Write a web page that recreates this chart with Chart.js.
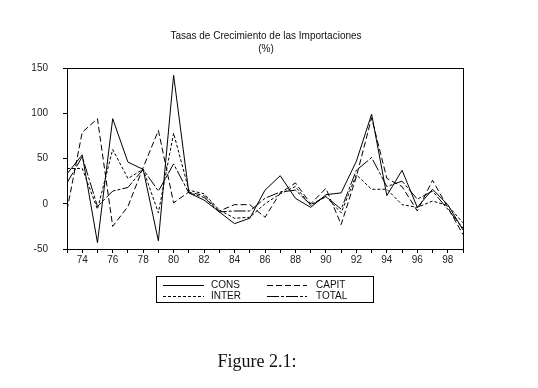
<!DOCTYPE html>
<html>
<head>
<meta charset="utf-8">
<script src="https://cdn.jsdelivr.net/npm/chart.js@4"></script>
<style>
  body { margin:0; background:#fff; }
  #wrap { position:relative; width:538px; height:388px; overflow:hidden; font-family:"Liberation Sans", Arial, sans-serif; }
  #c { position:absolute; left:0; top:0; }
  .title { position:absolute; left:0; width:532px; text-align:center; font-size:10px; color:#111; }
  #leg { position:absolute; left:156px; top:276px; width:216px; height:25px; border:1px solid #000; font-size:10px; color:#111; }
  .item { position:absolute; height:12px; line-height:12px; }
  .item svg { position:absolute; left:0; top:0; }
  .item span { position:absolute; top:0; }
  #cap { position:absolute; left:0; width:514px; top:351px; text-align:center; font-family:"Liberation Serif", "DejaVu Serif", serif; font-size:18px; color:#111; }
</style>
</head>
<body>
<div id="wrap">
  <canvas id="c" width="538" height="388"></canvas>
  <div class="title" style="top:30px">Tasas de Crecimiento de las Importaciones</div>
  <div class="title" style="top:43px">(%)</div>
  <div id="leg">
    <div class="item" style="left:6px;top:2px"><svg width="42" height="12"><line x1="0" y1="6.5" x2="41" y2="6.5" stroke="#000" stroke-width="1"/></svg><span style="left:48px">CONS</span></div>
    <div class="item" style="left:110px;top:2px"><svg width="42" height="12"><line x1="0" y1="6.5" x2="40" y2="6.5" stroke="#000" stroke-width="1" stroke-dasharray="6,3"/></svg><span style="left:49px">CAPIT</span></div>
    <div class="item" style="left:6px;top:13px"><svg width="42" height="12"><line x1="0" y1="6.5" x2="41" y2="6.5" stroke="#000" stroke-width="1" stroke-dasharray="3,2"/></svg><span style="left:48px">INTER</span></div>
    <div class="item" style="left:110px;top:13px"><svg width="42" height="12"><line x1="0" y1="6.5" x2="40" y2="6.5" stroke="#000" stroke-width="1" stroke-dasharray="12,2,3,2"/></svg><span style="left:49px">TOTAL</span></div>
  </div>
  <div id="cap">Figure 2.1:</div>
</div>
<script>
// años 1973-1999 (eje en dos dígitos)
const years = [73,74,75,76,77,78,79,80,81,82,83,84,85,86,87,88,89,90,91,92,93,94,95,96,97,98,99];
const cons  = [33,54,-43,94,46,38,-41,142,12,4,-9,-22,-16,15,31,6,-4,10,12,47,99,9,37,-4,16,-1,-29];
const capit = [-7,79,94,-25,-3,40,81,1,13,9,-8,-1,-1,-15,12,23,0,17,-23,30,95,28,19,-8,26,-4,-34];
const inter = [39,39,-6,60,28,38,-10,78,15,11,-7,-16,-15,0,11,19,-2,8,-10,32,16,16,-1,-4,3,-2,-21];
const total = [23,52,-3,14,18,38,14,44,12,7,-9,-8,-8,6,13,15,-1,8,-6,37,51,19,25,5,14,-6,-27];
const yTicks = [-50,0,50,100,150];

const pts = arr => arr.map((v,i)=>({x:years[i], y:v}));
const serie = (label, arr, dash) => ({label, data:pts(arr), borderColor:'#000', borderWidth:1,
  borderDash:dash, pointRadius:0, tension:0, fill:false});

const frame = {
  id:'frame',
  afterDraw(chart){
    const {ctx, chartArea:a} = chart;
    ctx.save();
    ctx.strokeStyle='#000'; ctx.lineWidth=1;
    ctx.strokeRect(Math.round(a.left)+0.5, Math.round(a.top)+0.5, Math.round(a.right-a.left), Math.round(a.bottom-a.top));
    ctx.restore();
  }
};

new Chart(document.getElementById('c'), {
  type:'line',
  data:{ datasets:[
    serie('CONS', cons, []),
    serie('CAPIT', capit, [6,3]),
    serie('INTER', inter, [3,2]),
    serie('TOTAL', total, [12,2,3,2])
  ]},
  options:{
    responsive:false, animation:false,
    layout:{padding:{left:27, right:75, top:68, bottom:117}},
    plugins:{legend:{display:false}, tooltip:{enabled:false}},
    scales:{
      x:{type:'linear', min:73, max:99,
        afterFit:s=>{s.height=22;},
        afterBuildTicks:s=>{s.ticks=years.map(v=>({value:v}));},
        grid:{drawOnChartArea:false, drawTicks:true, tickLength:4, color:'#000'},
        border:{color:'#000'},
        ticks:{autoSkip:false, maxRotation:0, padding:1, color:'#222',
          font:{family:'"Liberation Sans", Arial', size:10},
          callback:v=> (v%2===0 ? String(v) : '')}
      },
      y:{min:-50, max:150,
        afterFit:s=>{s.width=40;},
        afterBuildTicks:s=>{s.ticks=yTicks.map(v=>({value:v}));},
        grid:{drawOnChartArea:false, drawTicks:true, tickLength:4, color:'#000'},
        border:{color:'#000'},
        ticks:{padding:15, color:'#222', font:{family:'"Liberation Sans", Arial', size:10}}
      }
    }
  },
  plugins:[frame]
});
</script>
</body>
</html>
